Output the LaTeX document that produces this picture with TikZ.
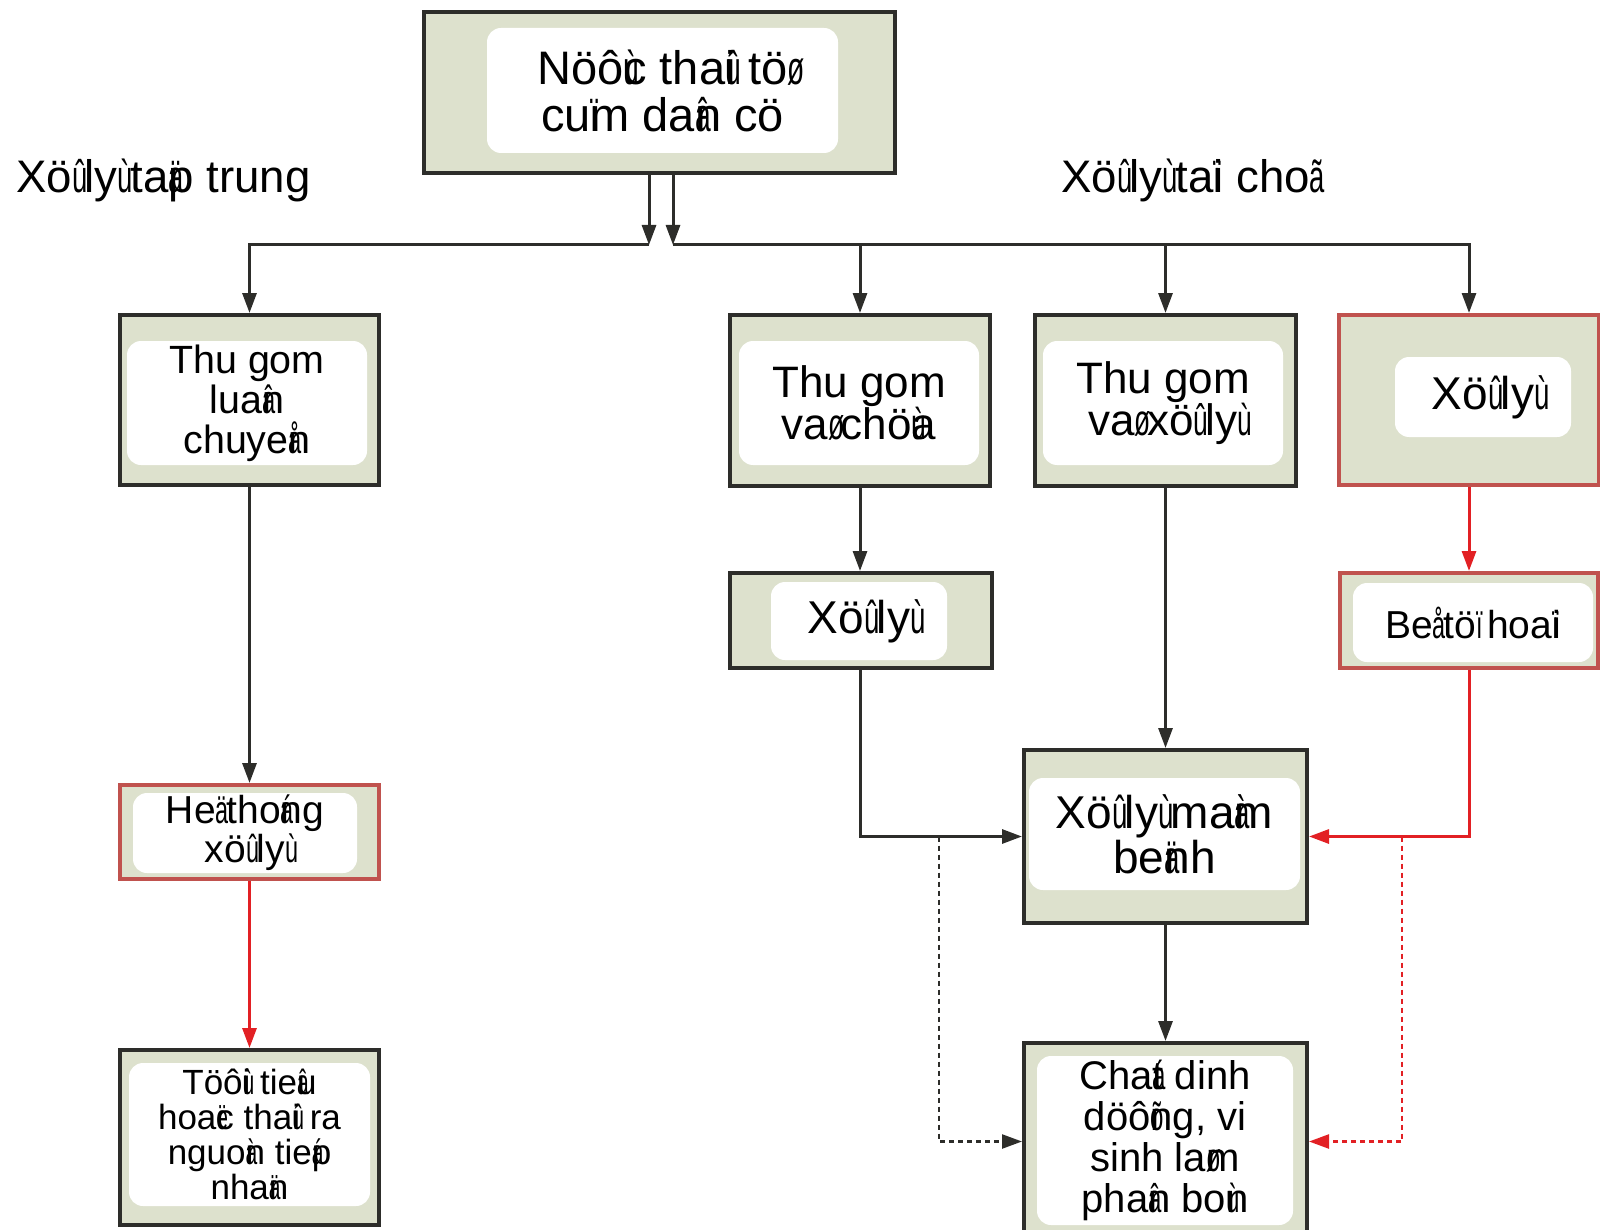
\documentclass[tikz,border=0pt]{standalone}
\usepackage{fontspec}
\setmainfont{Liberation Sans}
\usetikzlibrary{arrows.meta}
\definecolor{sage}{RGB}{221,225,205}
\definecolor{edge}{RGB}{45,45,42}
\definecolor{rededge}{RGB}{192,82,78}
\definecolor{redline}{RGB}{226,32,36}
% tone-mark glyphs of the legacy encoding: drawn narrow, with no advance
\newcommand\tonech[1]{\makebox[0pt][l]{\scalebox{0.6}[1]{#1}}}
\newcommand\fs[2]{\fontsize{#1pt}{#2pt}\selectfont}

\begin{document}
\begin{tikzpicture}[x=0.5pt,y=-0.5pt,
  outer/.style={draw=edge, line width=2pt, fill=sage, inner sep=0pt},
  outerred/.style={draw=rededge, line width=2pt, fill=sage, inner sep=0pt},
  inner/.style={fill=white, rounded corners=7pt, inner sep=0pt, align=center, text=black},
  conn/.style={draw=edge, line width=1.5pt, -{Triangle[length=10pt,width=7pt]}},
  connred/.style={draw=redline, line width=1.5pt, -{Triangle[length=10pt,width=7pt]}},
  dashblack/.style={conn, line width=1.2pt, dash pattern=on 2.5pt off 2pt},
  dashred/.style={connred, line width=1.2pt, dash pattern=on 2.5pt off 2pt}
]
\useasboundingbox (0,0) rectangle (1600,1230);
\clip (0,0) rectangle (1600,1230);

% source box
\node[outer, minimum width=235.5pt, minimum height=80.5pt] (top) at (659.5,92.5) {};
\node[inner, minimum width=175.5pt, minimum height=62.5pt, font=\fs{23.5}{23.5}] (topt) at (662.5,90.5)
  {Nöô\tonech{ù}c tha\tonech{û}i tö\tonech{ø}\\cu\tonech{ï}m da\tonech{â}n cö};

% branch headings
\node[anchor=base west, inner sep=0pt, font=\fs{22.8}{24}] (hl) at (16,193)
  {Xö\tonech{û} ly\tonech{ù} ta\tonech{ä}p trung};
\node[anchor=base west, inner sep=0pt, font=\fs{22.8}{24}] (hr) at (1061,193)
  {Xö\tonech{û} ly\tonech{ù} ta\tonech{ï}i cho\tonech{ã}};

% first row
\node[outer, minimum width=129.5pt, minimum height=85pt] (b1) at (249.5,400) {};
\node[inner, minimum width=120pt, minimum height=62pt, font=\fs{19.7}{20}] (b1t) at (247,403)
  {Thu gom\\lua\tonech{â}n\\chuye\tonech{å}n};
\node[outer, minimum width=130pt, minimum height=85.5pt] (b2) at (860,400.5) {};
\node[inner, minimum width=120pt, minimum height=62pt, font=\fs{22}{21}] (b2t) at (859,403)
  {Thu gom\\va\tonech{ø} chö\tonech{ù}a};
\node[outer, minimum width=130.5pt, minimum height=85.5pt] (b3) at (1165.5,400.5) {};
\node[inner, minimum width=120pt, minimum height=62pt, font=\fs{22}{21}] (b3t) at (1163,403)
  {Thu gom\\va\tonech{ø} xö\tonech{û} ly\tonech{ù}};
\node[outerred, minimum width=130pt, minimum height=85pt] (b4) at (1469,400) {};
\node[inner, minimum width=88pt, minimum height=40pt, font=\fs{23}{23}] (b4t) at (1483,397)
  {Xö\tonech{û} ly\tonech{ù}};

% second row
\node[outer, minimum width=131pt, minimum height=47.5pt] (b5) at (861,620.5) {};
\node[inner, minimum width=88pt, minimum height=39pt, font=\fs{23}{23}] (b5t) at (859,621)
  {Xö\tonech{û} ly\tonech{ù}};
\node[outerred, minimum width=129pt, minimum height=47.5pt] (b6) at (1469,620.5) {};
\node[inner, minimum width=120pt, minimum height=39.5pt, font=\fs{19.5}{20}] (b6t) at (1473,622.5)
  {Be\tonech{å} tö\tonech{ï} hoa\tonech{ï}i};

% lower boxes
\node[outerred, minimum width=129.5pt, minimum height=47pt] (b7) at (249.5,832) {};
\node[inner, minimum width=112pt, minimum height=40pt, font=\fs{19.5}{18}] (b7t) at (245,833)
  {He\tonech{ä} tho\tonech{á}ng\\xö\tonech{û} ly\tonech{ù}};
\node[outer, minimum width=141.5pt, minimum height=86.5pt] (b8) at (1165.5,836.5) {};
\node[inner, minimum width=135.5pt, minimum height=56pt, font=\fs{23}{22.5}] (b8t) at (1164.5,834)
  {Xö\tonech{û} ly\tonech{ù} ma\tonech{à}m\\be\tonech{ä}nh};
\node[outer, minimum width=129.5pt, minimum height=87.5pt] (b9) at (249.5,1137.5) {};
\node[inner, minimum width=120.5pt, minimum height=71.5pt, font=\fs{17.5}{17.5}] (b9t) at (249.5,1134.5)
  {Töô\tonech{ù}i tie\tonech{â}u\\hoa\tonech{ë}c tha\tonech{û}i ra\\nguo\tonech{à}n tie\tonech{á}p\\nha\tonech{ä}n};
\node[outer, minimum width=141.5pt, minimum height=98.5pt] (b10) at (1165.5,1141.5) {};
\node[inner, minimum width=128pt, minimum height=84.5pt, font=\fs{20}{20.5}] (b10t) at (1165,1140.5)
  {Cha\tonech{á}t dinh\\döô\tonech{õ}ng, vi\\sinh la\tonech{ø}m\\pha\tonech{â}n bo\tonech{ù}n};

% distribution bus
\coordinate (jl) at (649,245);
\coordinate (jr) at (673,245);
\draw[conn] (top.south -| jl) -- (jl);
\draw[conn] (top.south -| jr) -- (jr);
\draw[conn] (jl) -| (b1.north);
\draw[conn] (jr) -| (b2.north);
\draw[conn] (jr) -| (b3.north);
\draw[conn] (jr) -| (b4.north);

% vertical flows
\draw[conn] (b1.south) -- (b1.south |- b7.north);
\draw[connred] (b7.south) -- (b7.south |- b9.north);
\draw[conn] (b2.south) -- (b2.south |- b5.north);
\draw[conn] (b3.south) -- (b3.south |- b8.north);
\draw[connred] (b4.south) -- (b4.south |- b6.north);
\draw[conn] (b8.south) -- (b10.north);

% into the treatment box
\draw[conn] (b5.south -| b2.south) |- (b8.west);
\draw[connred] (b6.south -| b4.south) |- (b8.east);

% bypass lines
\path (b8.west) ++(-83,0) coordinate (dl);
\path (b8.east) ++(93,0) coordinate (dr);
\draw[dashblack] (dl) |- (b10.west);
\draw[dashred] (dr) |- (b10.east);
\end{tikzpicture}
\end{document}
